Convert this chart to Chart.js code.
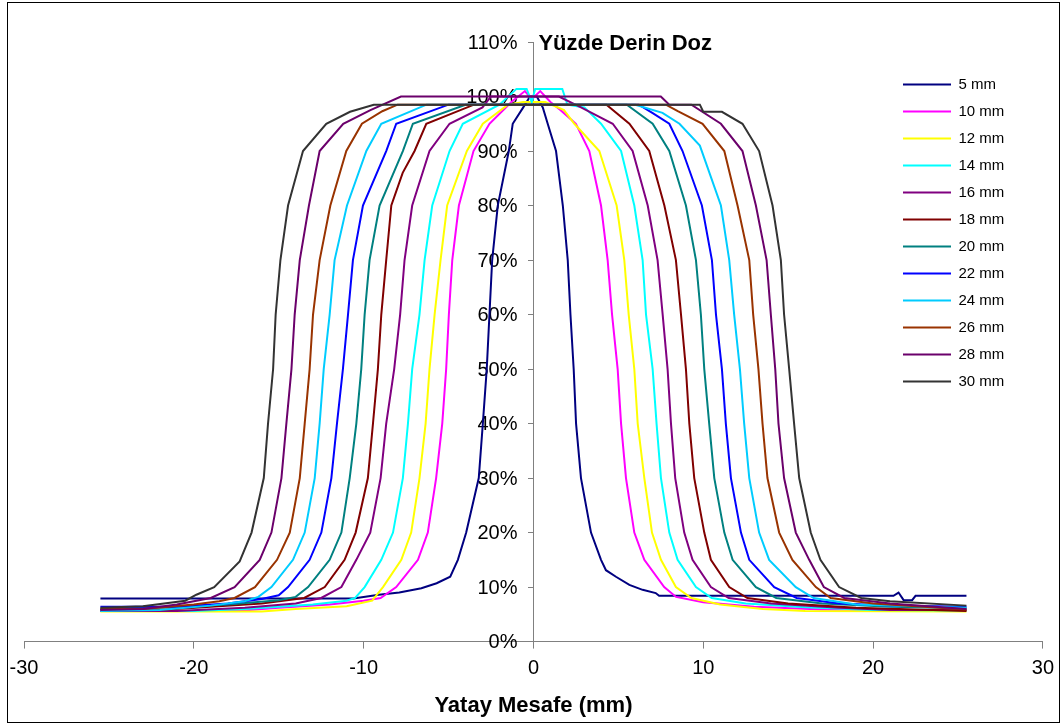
<!DOCTYPE html>
<html>
<head>
<meta charset="utf-8">
<script src="https://cdn.jsdelivr.net/npm/chart.js@4.4.1/dist/chart.umd.min.js"></script>
<style>
  html, body { margin: 0; padding: 0; background: #fff; }
  #wrap { width: 1062px; height: 725px; }
</style>
</head>
<body>
<div id="wrap"><canvas id="profile" width="1062" height="725"></canvas></div>
<script>
const FONT = "'Liberation Sans', Arial, sans-serif";

// field sizes shown in the legend
const fieldSizes = ['5 mm', '10 mm', '12 mm', '14 mm', '16 mm', '18 mm',
  '20 mm', '22 mm', '24 mm', '26 mm', '28 mm', '30 mm'];

const lineColors = ['#000080', '#ff00ff', '#ffff00', '#00ffff', '#800080', '#800000',
  '#008080', '#0000ff', '#00ccff', '#993300', '#6b006b', '#333333'];

// measured profiles: [lateral distance (mm), relative dose (%)]
const p5 = [[-25.5, 7.9], [-10.6, 7.9], [-9.1, 8.6], [-7.9, 9.0], [-6.6, 9.8], [-5.7, 10.7],
  [-4.9, 11.9], [-4.45, 15], [-3.96, 20], [-3.22, 30], [-2.98, 40], [-2.75, 50], [-2.59, 60],
  [-2.43, 70], [-2.1, 80], [-1.45, 90], [-1.22, 95], [-0.6, 98], [-0.2, 100], [0.2, 100],
  [0.55, 98], [0.84, 95], [1.33, 90], [1.73, 80], [2.02, 70], [2.18, 60], [2.37, 50],
  [2.51, 40], [2.8, 30], [3.39, 20], [3.98, 15], [4.27, 13.1], [4.86, 11.9], [5.65, 10.4],
  [6.43, 9.5], [7.2, 8.9], [7.4, 8.4], [21.2, 8.4], [21.5, 9.0], [21.8, 7.6], [22.3, 7.6],
  [22.5, 8.4], [25.5, 8.4]];

const p10 = [[-25.5, 5.6], [-17.5, 5.6], [-15, 6.2], [-12, 6.8], [-10, 7.5], [-9, 8.0],
  [-8.08, 10], [-6.8, 15], [-6.22, 20], [-5.73, 30], [-5.37, 40], [-5.14, 50], [-4.98, 60],
  [-4.78, 70], [-4.39, 80], [-3.53, 90], [-2.59, 95], [-1.3, 99], [-0.5, 101], [-0.1, 99.5],
  [0.4, 101], [1.0, 99], [1.6, 97.5], [2.5, 95], [3.29, 90], [3.98, 80], [4.37, 70],
  [4.63, 60], [4.96, 50], [5.16, 40], [5.45, 30], [5.94, 20], [6.53, 15], [7.7, 10],
  [8.4, 8.2], [10, 7.2], [13, 6.4], [17, 5.9], [25.5, 5.7]];

const p12 = [[-25.5, 5.5], [-16, 5.5], [-14, 6.0], [-11, 6.5], [-9.5, 7.5], [-8.86, 10],
  [-7.78, 15], [-7.2, 20], [-6.71, 30], [-6.35, 40], [-6.12, 50], [-5.82, 60], [-5.47, 70],
  [-5.08, 80], [-3.92, 90], [-2.98, 95], [-1.5, 98.5], [-0.6, 99], [0.7, 99], [1.8, 97.5],
  [2.41, 95], [3.88, 90], [4.9, 80], [5.35, 70], [5.61, 60], [5.94, 50], [6.14, 40],
  [6.53, 30], [6.98, 20], [7.51, 15], [8.39, 10], [9.3, 8], [11, 6.8], [13.5, 6.0],
  [16, 5.6], [25.5, 5.5]];

const p14 = [[-25.5, 5.6], [-20, 5.6], [-17, 6.0], [-13, 6.8], [-11, 7.5], [-10.5, 8],
  [-9.94, 10], [-8.96, 15], [-8.27, 20], [-7.69, 30], [-7.39, 40], [-7.14, 50], [-6.71, 60],
  [-6.41, 70], [-5.96, 80], [-4.94, 90], [-4.16, 95], [-2.0, 98.5], [-1.0, 101.4],
  [-0.4, 101.4], [-0.1, 99], [0.1, 101.4], [1.7, 101.4], [2.0, 98.5], [3.0, 98], [3.98, 95],
  [5.16, 90], [5.94, 80], [6.43, 70], [6.63, 60], [7.02, 50], [7.25, 40], [7.51, 30],
  [8.0, 20], [8.49, 15], [9.57, 10], [10.5, 8], [12.5, 7.0], [16, 6.3], [20, 5.8], [25.5, 5.7]];

const p16 = [[-25.5, 5.6], [-21, 5.6], [-17, 6.2], [-14, 7.0], [-12.5, 8], [-11.31, 10],
  [-10.43, 15], [-9.61, 20], [-9.0, 30], [-8.67, 40], [-8.2, 50], [-7.85, 60], [-7.59, 70],
  [-7.14, 80], [-6.12, 90], [-4.94, 95], [-3.0, 98], [-2.5, 100], [1.5, 100], [2.8, 98],
  [4.67, 95], [5.84, 90], [6.73, 80], [7.31, 70], [7.61, 60], [7.9, 50], [8.1, 40],
  [8.35, 30], [8.88, 20], [9.37, 15], [10.45, 10], [11.5, 8], [14, 7], [18, 6.2], [21, 5.8],
  [25.5, 5.8]];

const p18 = [[-25.5, 5.8], [-22, 5.8], [-19, 6.4], [-16, 7.0], [-13.5, 8], [-12.29, 10],
  [-11.12, 15], [-10.47, 20], [-9.75, 30], [-9.45, 40], [-9.16, 50], [-8.96, 60], [-8.67, 70],
  [-8.37, 80], [-7.7, 86], [-7.0, 90], [-6.31, 95], [-3.5, 98.5], [4.3, 98.5], [5.65, 95],
  [6.82, 90], [7.71, 80], [8.39, 70], [8.69, 60], [8.98, 50], [9.18, 40], [9.47, 30],
  [10.06, 20], [10.45, 15], [11.53, 10], [12.6, 8], [15, 7], [19, 6.2], [25.5, 5.6]];

const p20 = [[-25.5, 6.0], [-22, 6.2], [-18, 6.8], [-15, 7.6], [-14, 8.2], [-13.27, 10],
  [-12.0, 15], [-11.31, 20], [-10.82, 30], [-10.43, 40], [-10.14, 50], [-9.94, 60],
  [-9.65, 70], [-9.06, 80], [-7.69, 90], [-7.1, 95], [-4.0, 98.5], [5.5, 98.5], [7.02, 95],
  [8.0, 90], [8.98, 80], [9.57, 70], [9.86, 60], [10.06, 50], [10.35, 40], [10.65, 30],
  [11.24, 20], [11.73, 15], [13.1, 10], [14.3, 8], [17, 7], [21, 6.4], [25.5, 6.1]];

const p22 = [[-25.5, 6.4], [-21, 6.4], [-18, 7.0], [-16, 7.8], [-15, 8.5], [-14.45, 10],
  [-13.18, 15], [-12.49, 20], [-11.9, 30], [-11.57, 40], [-11.22, 50], [-10.92, 60],
  [-10.63, 70], [-10.04, 80], [-8.67, 90], [-8.08, 95], [-5.0, 98.5], [6.2, 98.5], [7.0, 97],
  [8.0, 95], [8.78, 90], [9.92, 80], [10.51, 70], [10.75, 60], [11.1, 50], [11.33, 40],
  [11.63, 30], [12.22, 20], [12.71, 15], [14.18, 10], [15.5, 8], [18, 7], [21, 6.6],
  [25.5, 6.4]];

const p24 = [[-25.5, 5.6], [-22, 5.8], [-19, 6.6], [-17, 7.4], [-16.2, 8.2], [-15.43, 10],
  [-14.16, 15], [-13.47, 20], [-12.88, 30], [-12.59, 40], [-12.35, 50], [-12.0, 60],
  [-11.71, 70], [-10.98, 80], [-9.84, 90], [-8.96, 95], [-6.3, 98.5], [6.0, 98.5], [7.6, 97],
  [8.6, 95], [9.8, 91], [11.04, 80], [11.53, 70], [11.82, 60], [12.16, 50], [12.41, 40],
  [12.71, 30], [13.29, 20], [13.88, 15], [15.45, 10], [16.5, 8], [19, 6.8], [25.5, 6.2]];

const p26 = [[-25.5, 6.0], [-23, 6.0], [-20, 6.8], [-18.5, 7.4], [-17.6, 8], [-16.4, 10],
  [-15.1, 15], [-14.35, 20], [-13.76, 30], [-13.47, 40], [-13.18, 50], [-12.98, 60],
  [-12.59, 70], [-11.96, 80], [-11.02, 90], [-10.1, 95], [-8.9, 97.3], [-8.0, 98.5],
  [7.8, 98.5], [8.5, 97.3], [9.96, 95], [11.24, 90], [12.02, 80], [12.71, 70], [12.94, 60],
  [13.25, 50], [13.49, 40], [13.78, 30], [14.47, 20], [15.25, 15], [16.63, 10], [17.5, 8],
  [20, 7], [25.5, 5.9]];

const p28 = [[-25.5, 5.8], [-23, 6.0], [-21, 6.8], [-19, 8], [-17.6, 10], [-16.12, 15],
  [-15.43, 20], [-14.84, 30], [-14.55, 40], [-14.25, 50], [-14.06, 60], [-13.76, 70],
  [-13.22, 80], [-12.59, 90], [-11.2, 95], [-9.6, 97.5], [-7.8, 100], [7.5, 100], [8.0, 98.5],
  [9.3, 98.5], [11.04, 95], [12.31, 90], [13.1, 80], [13.73, 70], [13.98, 60], [14.24, 50],
  [14.43, 40], [14.76, 30], [15.45, 20], [16.24, 15], [17.1, 10], [18.3, 8], [21, 7],
  [25.5, 6.0]];

const p30 = [[-25.5, 6.2], [-23, 6.5], [-20.5, 7.5], [-19.85, 8.6], [-18.8, 10], [-17.3, 14.7],
  [-16.6, 20], [-15.88, 30], [-15.63, 40], [-15.33, 50], [-15.18, 60], [-14.9, 70],
  [-14.45, 80], [-13.57, 90], [-12.2, 95], [-10.8, 97.2], [-9.4, 98.5], [9.8, 98.5],
  [10.0, 97.2], [11.1, 97.2], [12.31, 95], [13.29, 90], [14.08, 80], [14.57, 70], [14.76, 60],
  [15.06, 50], [15.35, 40], [15.65, 30], [16.33, 20], [16.9, 15], [18.0, 10], [19.3, 8],
  [21, 7.4], [25.5, 6.6]];

const profiles = [p5, p10, p12, p14, p16, p18, p20, p22, p24, p26, p28, p30];

const chartTitle = 'Yüzde Derin Doz';
const xTitle = 'Yatay Mesafe (mm)';

// frame, the chart title and the percent labels beside the centred y axis
const decorations = {
  id: 'decorations',
  beforeDraw(chart) {
    const ctx = chart.ctx;
    ctx.save();
    ctx.fillStyle = '#fff';
    ctx.fillRect(0, 0, chart.width, chart.height);
    ctx.strokeStyle = '#000';
    ctx.lineWidth = 1;
    ctx.strokeRect(7.5, 2.5, 1052, 720);
    ctx.restore();
  },
  afterLayout(chart) {
    // park the legend in the upper right of the plot
    const lg = chart.legend;
    lg.left = 891;
    lg.top = 65;
    lg.right = 1062;
    lg.bottom = 640;
    lg.width = lg.right - lg.left;
    lg.height = lg.bottom - lg.top;
  },
  beforeDatasetsDraw(chart) {
    const ctx = chart.ctx;
    const xs = chart.scales.x;
    const ys = chart.scales.y;
    const axisX = xs.getPixelForValue(0);
    ctx.save();
    ctx.fillStyle = '#000';
    ctx.font = '20px ' + FONT;
    ctx.textAlign = 'right';
    ctx.textBaseline = 'middle';
    ys.ticks.forEach((t) => {
      ctx.fillText(t.value + '%', axisX - 16, ys.getPixelForValue(t.value) + 1);
    });
    ctx.font = 'bold 22px ' + FONT;
    ctx.textAlign = 'left';
    ctx.fillText(chartTitle, axisX + 5, ys.getPixelForValue(110) + 2);
    ctx.restore();
  }
};

new Chart(document.getElementById('profile'), {
  type: 'line',
  data: {
    datasets: profiles.map((pts, i) => ({
      label: fieldSizes[i],
      data: pts.map(([x, y]) => ({ x, y })),
      borderColor: lineColors[i],
      backgroundColor: lineColors[i],
      borderWidth: 2,
      pointRadius: 0,
      tension: 0,
      fill: false,
      order: -i
    }))
  },
  options: {
    responsive: false,
    animation: false,
    devicePixelRatio: 1,
    layout: { padding: { left: 24, right: 18, top: 42, bottom: 0 } },
    plugins: {
      tooltip: { enabled: false },
      legend: {
        position: 'chartArea',
        align: 'start',
        labels: {
          usePointStyle: true,
          pointStyle: 'line',
          pointStyleWidth: 48,
          padding: 12,
          color: '#000',
          font: { family: FONT, size: 15 },
          sort: (a, b) => a.datasetIndex - b.datasetIndex
        }
      }
    },
    scales: {
      x: {
        type: 'linear',
        min: -30,
        max: 30,
        ticks: { stepSize: 10, color: '#000', padding: 8, font: { family: FONT, size: 20 } },
        grid: { drawOnChartArea: false, tickLength: 7, color: '#808080' },
        border: { color: '#808080', width: 1 },
        title: {
          display: true,
          text: xTitle,
          color: '#000',
          font: { family: FONT, size: 22, weight: 'bold' },
          padding: { top: 4, bottom: 6 }
        }
      },
      y: {
        type: 'linear',
        min: 0,
        max: 110,
        position: { x: 0 },
        ticks: { stepSize: 10, display: false },
        grid: { drawOnChartArea: false, tickLength: 5, color: '#808080' },
        border: { color: '#808080', width: 1 },
        afterFit(scale) { scale.width = 0; }
      }
    }
  },
  plugins: [decorations]
});
</script>
</body>
</html>
